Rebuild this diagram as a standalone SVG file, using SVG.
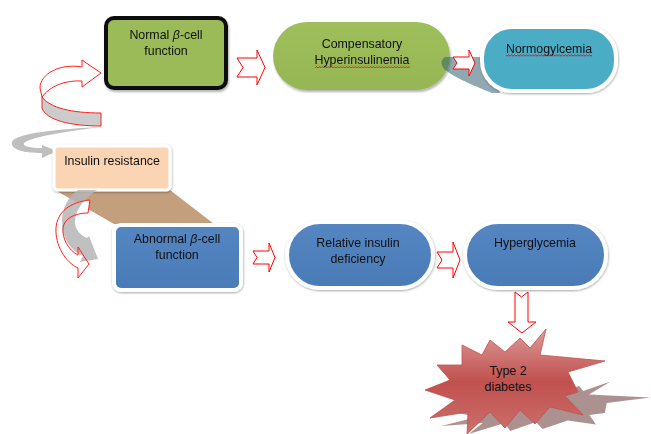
<svg xmlns="http://www.w3.org/2000/svg" width="651" height="434" viewBox="0 0 651 434">
<defs>
<style>
.t{font-family:"Liberation Sans",Arial,sans-serif;font-size:12.4px;fill:#111;text-anchor:middle}
.arr{fill:#fff;stroke:#ff0000;stroke-width:1;stroke-linejoin:miter}
.wb{stroke:#fff;stroke-width:4}
.blue{fill:url(#gBlue)}
.red{stroke:#ff2020;stroke-width:1;stroke-linejoin:round}
</style>
<linearGradient id="gBlue" x1="0" y1="0" x2="0" y2="1">
<stop offset="0" stop-color="#5486C2"/><stop offset="1" stop-color="#4A7BB7"/>
</linearGradient>
<linearGradient id="gGreen" x1="0" y1="0" x2="0" y2="1">
<stop offset="0" stop-color="#9FBF5C"/><stop offset="1" stop-color="#96B655"/>
</linearGradient>
<linearGradient id="gStar" x1="0" y1="0" x2="0" y2="1">
<stop offset="0" stop-color="#DC9C9A"/><stop offset="0.5" stop-color="#C0504D"/><stop offset="1" stop-color="#CC706D"/>
</linearGradient>
<filter id="sh" x="-10%" y="-10%" width="125%" height="135%">
<feDropShadow dx="1" dy="2" stdDeviation="1.2" flood-color="#000" flood-opacity="0.3"/>
</filter>
<filter id="gl" x="-10%" y="-10%" width="125%" height="135%">
<feDropShadow dx="0.5" dy="1" stdDeviation="1" flood-color="#000" flood-opacity="0.35"/>
</filter>
<pattern id="sq" width="3" height="3" patternUnits="userSpaceOnUse">
<path d="M0,2.2 L1.5,0.8 L3,2.2" fill="none" stroke="#e00000" stroke-width="0.8"/>
</pattern>
<path id="star" d="M546,329 L540,355 L605,361 L568,372 L578,392 L565,396 L583,415 L550,407 L535,424 L520,410 L505,428 L490,412 L467,434 L468,412 L430,418 L455,400 L425,390 L450,380 L437,365 L462,365 L462,345 L482,355 L490,340 L505,352 L520,338 L530,348 Z"/>
</defs>
<rect width="651" height="434" fill="#fff"/>

<!-- decorative shadows -->
<polygon points="55,190 170,190 214,224 114,224" fill="#C49F7E"/>

<g id="connectors">
<path class="arr" d="M237,58 H257 V50 L265,67.5 L257,85 V77 H237 L243,67.5 Z"/>
<path class="arr" d="M253,251 H269 V243 L275,257.5 L269,272 V264 H253 L257,257.5 Z"/>
<path class="arr" d="M437,252 H453 V242 L460,260 L453,278 V268 H437 L442,260 Z"/>
<path class="arr" d="M515,292 L521.5,297 L528,292 V322 H536 L522,333 L508,322 H515 Z"/>
<!-- top curly arrow -->
<path d="M101,127 C60,129 15,133 12,142 C10,150 25,153 42,153 L42,158 L57,151 L42,145 L42,148 C30,148 22,146 24,143 C30,137 70,131 101,127 Z" fill="#BFBFBF"/>
<path class="red" d="M42,97 C50,108 72,113 101,113 L101,126 C70,126 46,120 42,108 Z" fill="#CCCCCC"/>
<path class="red" d="M82,67 C60,63 40,74 40,88 L42,97 C50,86 65,80 82,81 L82,87 L101,73 L82,60 Z" fill="#fff"/>
</g>

<g id="n-insulin" filter="url(#gl)">
<rect x="54" y="146" width="116" height="44" rx="4" fill="#FBD4B4" stroke="#fff" stroke-width="3"/>
<text class="t" x="112" y="165">Insulin resistance</text>
</g>

<g id="connectors-lower">
<path d="M90,200 C70,202 57,212 56,228 C55,245 65,262 78,268 L78,278 L89,264 L78,247 L78,255 C68,250 62,238 63,228 C64,219 74,213 88,213 Z" fill="#fff"/>
<path d="M78,190 L97,190 C85,198 74,210 75,224 C76,230 80,235 87,238 L89,236 L98,259 L80,262 L83,256 C70,250 62,238 62,222 C62,208 68,197 78,190 Z" fill="#B5B5B5" opacity="0.85"/>
<path class="red" d="M90,200 C70,202 57,212 56,228 C55,245 65,262 78,268 L78,278 L89,264 L78,247 L78,255 C68,250 62,238 63,228 C64,219 74,213 88,213 Z" fill="none"/>
</g>

<g id="n-normal" filter="url(#sh)">
<rect x="106" y="18" width="120" height="70" rx="8" fill="#9BBB59" stroke="#111" stroke-width="4"/>
<text class="t" x="166" y="39">Normal <tspan font-style="italic">β</tspan>-cell</text>
<text class="t" x="166" y="55">function</text>
</g>

<g id="n-comp" filter="url(#sh)">
<rect x="273" y="22" width="177" height="68" rx="34" fill="url(#gGreen)"/>
<text class="t" x="362" y="48">Compensatory</text>
<text class="t" x="362" y="64">Hyperinsulinemia</text>
<rect x="315" y="65" width="95" height="3" fill="url(#sq)"/>
</g>

<path d="M445,57 L484,57 L500,93 L492,93 C475,86 458,79 448,72 C440,67 440,60 445,57 Z" fill="#35606F" opacity="0.55"/>
<path class="arr" d="M453,57 H469 V50 L475,63 L469,76 V69 H453 L457,63 Z"/>

<g id="n-normo" filter="url(#gl)">
<rect x="482" y="27" width="134" height="64" rx="30" fill="#4BACC6" class="wb"/>
<text class="t" x="549" y="52.5">Normogylcemia</text>
<rect x="506" y="54" width="86" height="3" fill="url(#sq)"/>
</g>

<g id="n-abnormal" filter="url(#gl)">
<rect x="114" y="225" width="127" height="65" rx="7" class="blue wb"/>
<text class="t" x="177" y="243">Abnormal <tspan font-style="italic">β</tspan>-cell</text>
<text class="t" x="177" y="259">function</text>
</g>

<g id="n-relative" filter="url(#gl)">
<rect x="287" y="222" width="146" height="66" rx="33" class="blue wb"/>
<text class="t" x="358" y="247">Relative insulin</text>
<text class="t" x="358" y="263">deficiency</text>
</g>

<g id="n-hyper" filter="url(#gl)">
<rect x="465" y="222" width="141" height="66" rx="33" class="blue wb"/>
<text class="t" x="535" y="247">Hyperglycemia</text>
</g>

<g id="n-t2d">
<use href="#star" transform="matrix(1,0,-0.6,0.5,262,217)" fill="#9E7E7E" opacity="0.85"/>
<use href="#star" fill="url(#gStar)" stroke="#C0504D" stroke-width="0.8"/>
<text class="t" x="508" y="375">Type 2</text>
<text class="t" x="508" y="391">diabetes</text>
</g>
</svg>
